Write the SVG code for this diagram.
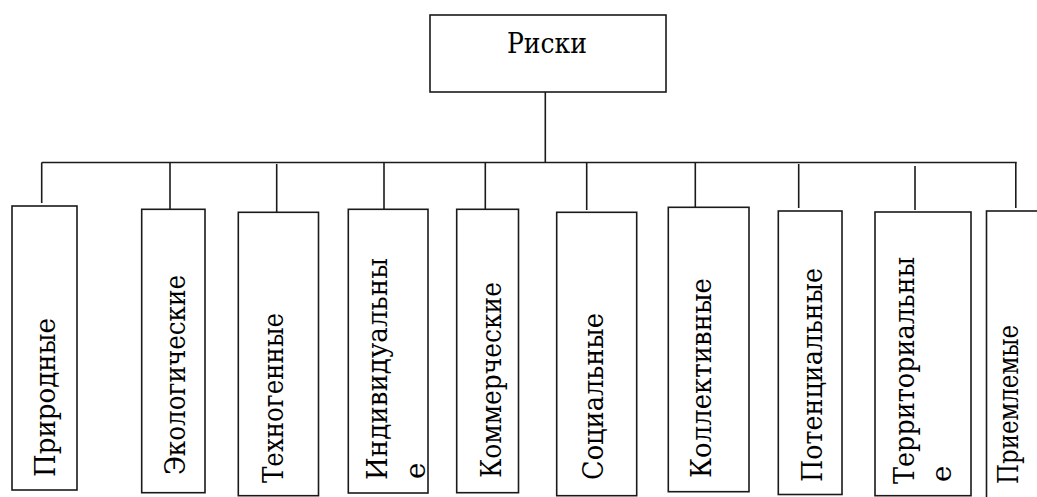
<svg xmlns="http://www.w3.org/2000/svg" width="1037" height="497" viewBox="0 0 1037 497">
<style>
.box{fill:#fff;stroke:#1a1a1a;stroke-width:1.6}
.ln{stroke:#1a1a1a;stroke-width:1.6;fill:none}
.t{font-family:'DejaVu Serif','Liberation Serif',serif;font-size:27.5px;fill:#000}
</style>
<rect width="1037" height="497" fill="#fff"/>
<g id="connectors">
<line class="ln" x1="545.3" y1="92" x2="545.3" y2="162.5"/>
<line class="ln" x1="41.7" y1="162.5" x2="1016.7" y2="162.5"/>
<line class="ln" x1="41.7" y1="162.5" x2="41.7" y2="203"/>
<line class="ln" x1="170" y1="162.5" x2="170" y2="209"/>
<line class="ln" x1="276.7" y1="164" x2="276.7" y2="212"/>
<line class="ln" x1="384" y1="162.5" x2="384" y2="209"/>
<line class="ln" x1="485.3" y1="162.5" x2="485.3" y2="209"/>
<line class="ln" x1="586.7" y1="162.5" x2="586.7" y2="210"/>
<line class="ln" x1="695.3" y1="162.5" x2="695.3" y2="207"/>
<line class="ln" x1="798.7" y1="164" x2="798.7" y2="208"/>
<line class="ln" x1="915" y1="166" x2="915" y2="210"/>
<line class="ln" x1="1015.8" y1="162.5" x2="1015.8" y2="208"/>
</g>
<g id="root">
<rect class="box" x="430" y="15" width="236" height="77"/>
<text class="t" x="507" y="53" textLength="80" lengthAdjust="spacingAndGlyphs">Риски</text>
</g>
<g id="n1">
<rect class="box" x="12" y="206" width="65" height="284"/>
<text class="t" transform="translate(55,477) rotate(-90)" textLength="159" lengthAdjust="spacingAndGlyphs">Природные</text>
</g>
<g id="n2">
<rect class="box" x="141.7" y="209.3" width="63.3" height="283.4"/>
<text class="t" transform="translate(185,475) rotate(-90)" textLength="200" lengthAdjust="spacingAndGlyphs">Экологические</text>
</g>
<g id="n3">
<rect class="box" x="238.3" y="212.3" width="80.2" height="283.4"/>
<text class="t" transform="translate(283,483) rotate(-90)" textLength="170" lengthAdjust="spacingAndGlyphs">Техногенные</text>
</g>
<g id="n4">
<rect class="box" x="348.3" y="209.3" width="79.7" height="283.7"/>
<text class="t" transform="translate(387,480) rotate(-90)" textLength="222" lengthAdjust="spacingAndGlyphs">Индивидуальны</text>
<text class="t" transform="translate(425,479) rotate(-90)">е</text>
</g>
<g id="n5">
<rect class="box" x="456.7" y="209.3" width="61.8" height="283.4"/>
<text class="t" transform="translate(501,478) rotate(-90)" textLength="196" lengthAdjust="spacingAndGlyphs">Коммерческие</text>
</g>
<g id="n6">
<rect class="box" x="556.7" y="212.3" width="80" height="283.4"/>
<text class="t" transform="translate(603,480) rotate(-90)" textLength="167" lengthAdjust="spacingAndGlyphs">Социальные</text>
</g>
<g id="n7">
<rect class="box" x="668.3" y="207.3" width="80.7" height="284.4"/>
<text class="t" transform="translate(711,478) rotate(-90)" textLength="200" lengthAdjust="spacingAndGlyphs">Коллективные</text>
</g>
<g id="n8">
<rect class="box" x="778.3" y="211" width="63.7" height="283.5"/>
<text class="t" transform="translate(822,482) rotate(-90)" textLength="214" lengthAdjust="spacingAndGlyphs">Потенциальные</text>
</g>
<g id="n9">
<rect class="box" x="875" y="212" width="96" height="283.7"/>
<text class="t" transform="translate(914,484) rotate(-90)" textLength="227" lengthAdjust="spacingAndGlyphs">Территориальны</text>
<text class="t" transform="translate(951,482) rotate(-90)">е</text>
</g>
<g id="n10">
<rect class="box" x="986.5" y="211" width="60" height="300"/>
<text class="t" transform="translate(1018,484) rotate(-90)" textLength="159" lengthAdjust="spacingAndGlyphs">Приемлемые</text>
</g>
</svg>
